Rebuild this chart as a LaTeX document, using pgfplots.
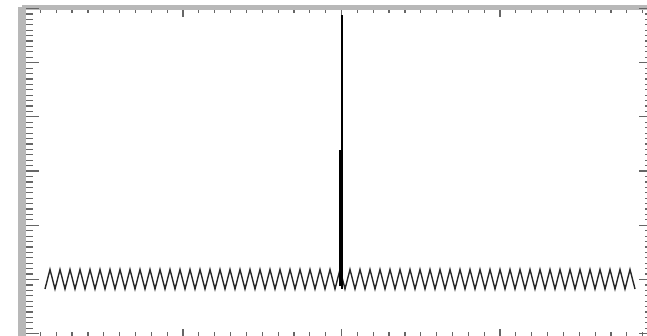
\documentclass[border=0pt]{standalone}
\usepackage{pgfplots}
\pgfplotsset{compat=1.18}
\definecolor{frame}{gray}{0.72}
\pgfplotsset{
  base/.style={
    at={(0,0)}, anchor=south west,
    scale only axis, width=634bp, height=331bp,
    xmin=22, xmax=656, ymin=0, ymax=331,
    separate axis lines,
    tick style={draw=black!60, line width=1.2bp},
  }
}
\begin{document}
\begin{tikzpicture}
% x ticks and top/bottom frame lines
\begin{axis}[base,
  xtick={24.5,183,341.5,500,658.5}, ytick=\empty,
  minor x tick num=9,
  xticklabels={},
  x axis line style={draw=frame, line width=5bp},
  y axis line style={draw=none},
  major tick length=9.5bp, minor tick length=6bp,
]
\end{axis}
% y ticks, left/right frame lines and data
\begin{axis}[base,
  xtick=\empty,
  ytick={4.8,59,113.2,167.4,221.6,275.8,330},
  minor y tick num=9,
  yticklabels={},
  x axis line style={draw=none},
  y axis line style={draw=frame, line width=8bp},
  major tick length=17bp, minor tick length=11bp,
]
\addplot[black!85, line width=1.4bp, mark=none] coordinates {
(45,49.5)(50,69)(55,49.5)(60,69)(65,49.5)(70,69)(75,49.5)(80,69)(85,49.5)(90,69)
(95,49.5)(100,69)(105,49.5)(110,69)(115,49.5)(120,69)(125,49.5)(130,69)(135,49.5)(140,69)
(145,49.5)(150,69)(155,49.5)(160,69)(165,49.5)(170,69)(175,49.5)(180,69)(185,49.5)(190,69)
(195,49.5)(200,69)(205,49.5)(210,69)(215,49.5)(220,69)(225,49.5)(230,69)(235,49.5)(240,69)
(245,49.5)(250,69)(255,49.5)(260,69)(265,49.5)(270,69)(275,49.5)(280,69)(285,49.5)(290,69)
(295,49.5)(300,69)(305,49.5)(310,69)(315,49.5)(320,69)(325,49.5)(330,69)(335,49.5)(340,69)
(345,49.5)(350,69)(355,49.5)(360,69)(365,49.5)(370,69)(375,49.5)(380,69)(385,49.5)(390,69)
(395,49.5)(400,69)(405,49.5)(410,69)(415,49.5)(420,69)(425,49.5)(430,69)(435,49.5)(440,69)
(445,49.5)(450,69)(455,49.5)(460,69)(465,49.5)(470,69)(475,49.5)(480,69)(485,49.5)(490,69)
(495,49.5)(500,69)(505,49.5)(510,69)(515,49.5)(520,69)(525,49.5)(530,69)(535,49.5)(540,69)
(545,49.5)(550,69)(555,49.5)(560,69)(565,49.5)(570,69)(575,49.5)(580,69)(585,49.5)(590,69)
(595,49.5)(600,69)(605,49.5)(610,69)(615,49.5)(620,69)(625,49.5)(630,69)(635,49.5)
};
\addplot[black, line width=2.5bp, mark=none] coordinates {(342,49.5)(342,323.5)};
\addplot[black, line width=4.5bp, mark=none] coordinates {(341,52)(341,188.5)};
\end{axis}
\pgfresetboundingbox
\useasboundingbox (-22bp,2.5bp) rectangle (625bp,338.5bp);
\end{tikzpicture}
\end{document}
